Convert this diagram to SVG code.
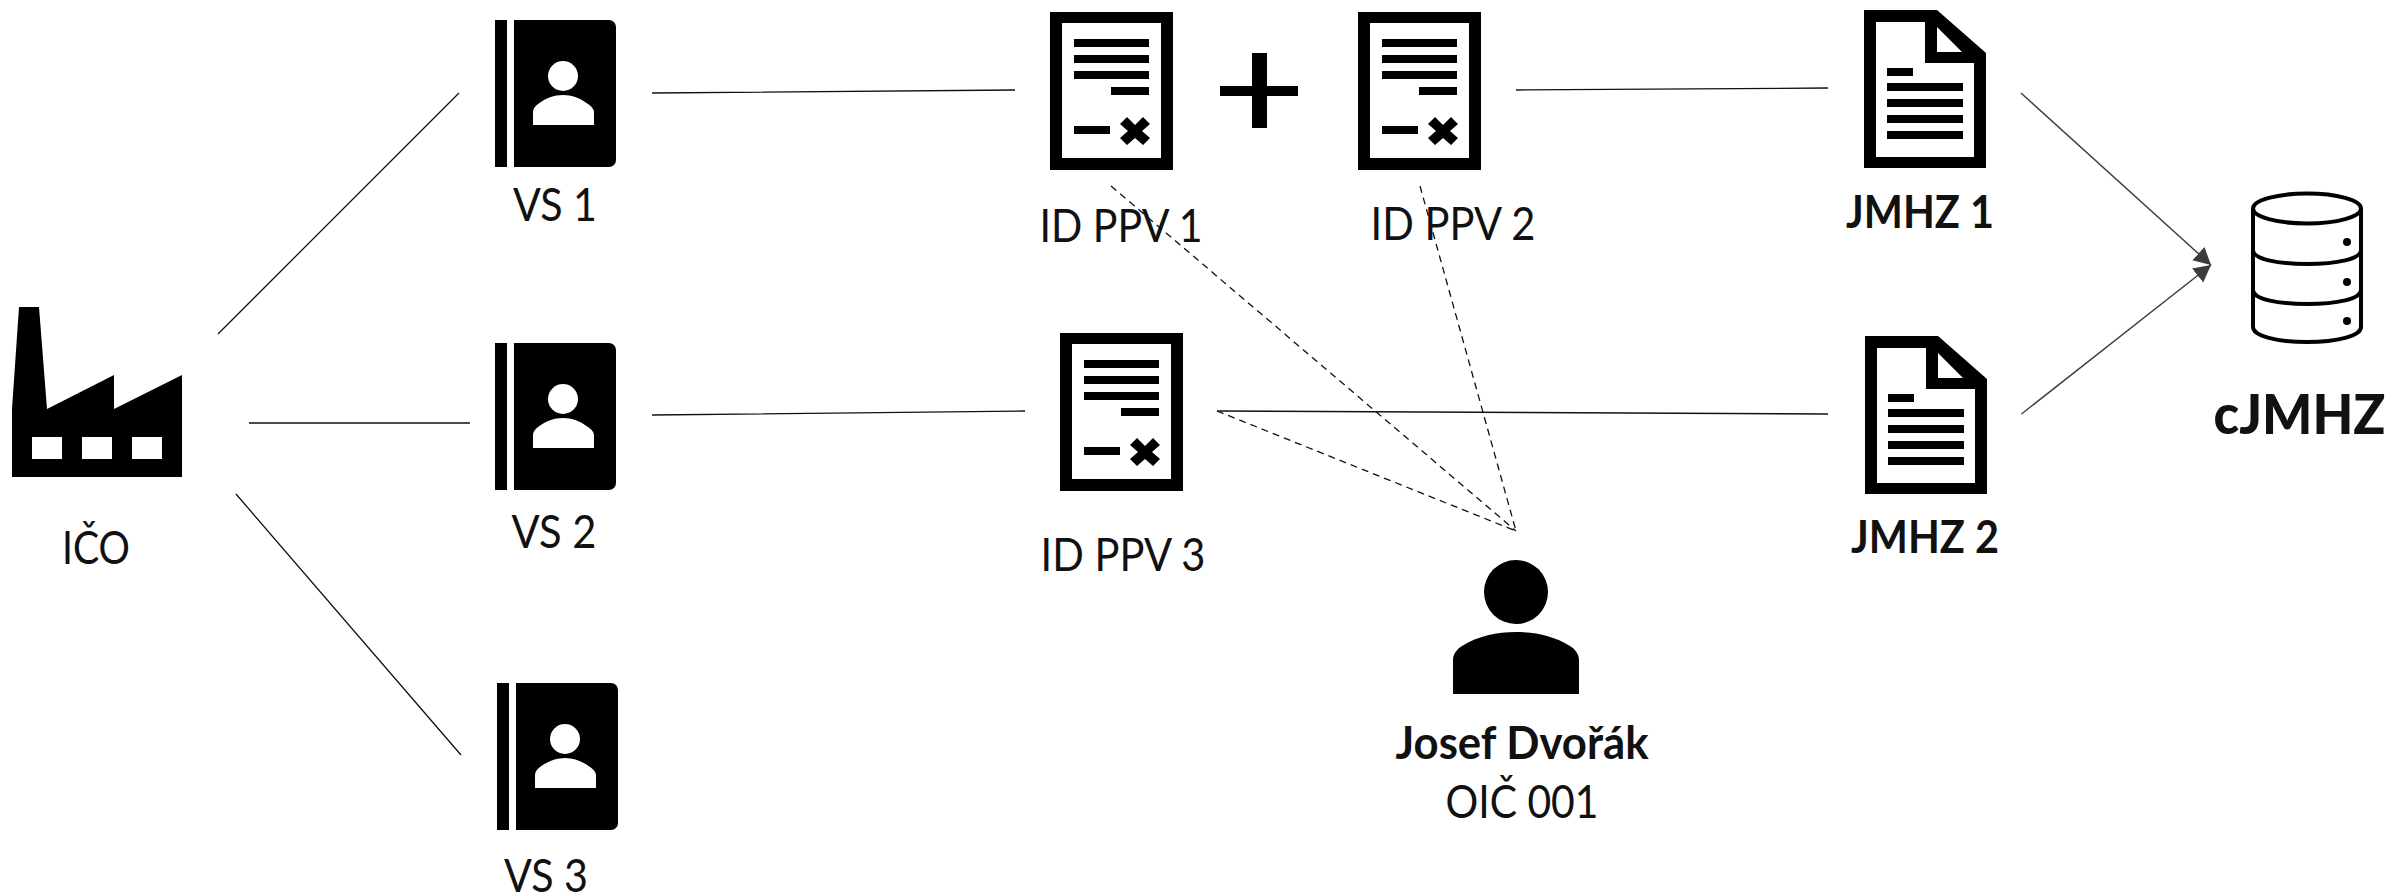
<svg xmlns="http://www.w3.org/2000/svg" width="2392" height="896" viewBox="0 0 2392 896">
<style>
text{font-family:"Lato","Open Sans",sans-serif;font-size:46px;fill:#111;text-anchor:middle}
.b{font-weight:700}
.h{font-weight:900;font-size:55px}
.c{stroke:#111;stroke-width:1.3;fill:none}
.d{stroke:#111;stroke-width:1.3;fill:none;stroke-dasharray:7 5}
.a{stroke:#3c3c3c;stroke-width:1.4;fill:none;marker-end:url(#arr)}
</style>
<defs>
<marker id="arr" markerUnits="userSpaceOnUse" markerWidth="19" markerHeight="20" refX="17" refY="9" orient="auto"><path d="M0 0L17 9L0 18Z" fill="#3c3c3c"/></marker>
<g id="book"><path d="M495 20h12v147h-12zM514 20h95a7 7 0 0 1 7 7v133a7 7 0 0 1-7 7h-95z" fill="#000"/><circle cx="563" cy="76" r="15" fill="#fff"/><path d="M533 125v-13c0-3 2-6 5-8c8-6 16-9 25-9s17 3 25 9c3 2 6 5 6 8v13z" fill="#fff"/></g>
<g id="doc"><path fill-rule="evenodd" d="M1050 12h123v158h-123zM1062 23v135h99v-135z" fill="#000"/><path d="M1074 39h75v8h-75zM1074 55h75v8h-75zM1074 71h75v8h-75zM1111 87h38v8h-38zM1074 126h36v8h-36z" fill="#000"/><path d="M1127 117l8 8l8-8l7 7l-8 7l8 7l-7 7l-8-7l-8 7l-7-7l8-7l-8-7z" fill="#000"/></g>
<g id="jm"><path fill-rule="evenodd" d="M1864 10h73l49 43v115h-122zM1876 22v135h98v-94h-49v-41zM1937 27v25h25z" fill="#000"/><path d="M1887 68h26v8h-26zM1887 83h76v8h-76zM1887 99h76v8h-76zM1887 115h76v8h-76zM1887 131h76v8h-76z" fill="#000"/></g>
</defs>
<g id="connectors">
<path class="c" d="M218 334L459 93M249 423L470 423M236 494L461 755M652 93L1015 90M652 415L1025 411M1516 90L1828 88M1217 411L1828 414"/>
<path class="d" d="M1111 186L1516 531M1420 186L1516 531M1217 411L1516 531"/>
<path class="a" d="M2021 93L2211 265"/>
<path class="a" d="M2021.500 414L2211 265"/>
</g>
<g id="ico"><path fill-rule="evenodd" d="M19 307h20l8 102l67-34v34l68-34v102h-170v-68zM32 437v22h30v-22zM82 437v22h30v-22zM132 437v22h30v-22z" fill="#000"/><text x="96" y="564" textLength="68" lengthAdjust="spacingAndGlyphs">IČO</text></g>
<g id="vs1"><use href="#book"/><text x="555" y="221" textLength="84" lengthAdjust="spacingAndGlyphs">VS 1</text></g>
<g id="vs2"><use href="#book" y="323"/><text x="554" y="548" textLength="85" lengthAdjust="spacingAndGlyphs">VS 2</text></g>
<g id="vs3"><use href="#book" x="2" y="663"/><text x="546" y="892" textLength="84" lengthAdjust="spacingAndGlyphs">VS 3</text></g>
<g id="ppv1"><use href="#doc"/><text x="1121" y="242" textLength="163" lengthAdjust="spacingAndGlyphs">ID PPV 1</text></g>
<g id="plus"><path d="M1252 53h15v33h31v10h-31v32h-15v-32h-32v-10h32z" fill="#000"/></g>
<g id="ppv2"><use href="#doc" x="308"/><text x="1453" y="240" textLength="165" lengthAdjust="spacingAndGlyphs">ID PPV 2</text></g>
<g id="ppv3"><use href="#doc" x="10" y="321"/><text x="1123" y="571" textLength="165" lengthAdjust="spacingAndGlyphs">ID PPV 3</text></g>
<g id="jmhz1"><use href="#jm"/><text class="b" x="1920" y="228" textLength="148" lengthAdjust="spacingAndGlyphs">JMHZ 1</text></g>
<g id="jmhz2"><use href="#jm" x="1" y="326"/><text class="b" x="1925" y="553" textLength="148" lengthAdjust="spacingAndGlyphs">JMHZ 2</text></g>
<g id="cjmhz"><g fill="none" stroke="#000" stroke-width="4"><ellipse cx="2307" cy="208.500" rx="54" ry="15"/><path d="M2253 208v119c0 9 24 15 54 15s54-6 54-15v-119M2253 250c0 9 24 14 54 14s54-5 54-14M2253 290c0 9 24 14 54 14s54-5 54-14"/></g><circle cx="2347" cy="242" r="4"/><circle cx="2347" cy="282" r="4"/><circle cx="2347" cy="321" r="4"/><text class="h" x="2299.500" y="434" textLength="172" lengthAdjust="spacingAndGlyphs">cJMHZ</text></g>
<g id="person"><circle cx="1516" cy="592" r="32" fill="#000"/><path d="M1453 694v-34c0-6 4-11 9-14c16-10 35-14 54-14s38 4 54 14c5 3 9 8 9 14v34z" fill="#000"/><text class="b" x="1522" y="759" textLength="253" lengthAdjust="spacingAndGlyphs">Josef Dvořák</text><text x="1522" y="818" textLength="153" lengthAdjust="spacingAndGlyphs">OIČ 001</text></g>
</svg>
